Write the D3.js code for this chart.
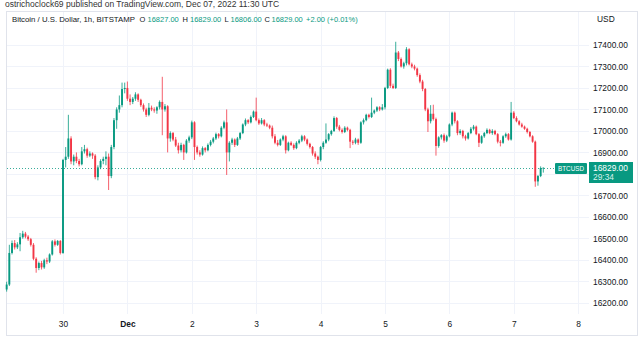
<!DOCTYPE html>
<html><head><meta charset="utf-8">
<script src="https://cdn.jsdelivr.net/npm/d3@7"></script>
<style>html,body{margin:0;padding:0;background:#fff;overflow:hidden}</style>
</head><body><svg id="c" width="643" height="343"></svg>
<script>
// ---- data (hourly candles, BTC/USD Bitstamp, first candle 2022-11-29 03:00 UTC) ----
const startTime = "2022-11-29T03:00:00Z";
const openP = [16262,16285,16432,16478,16458,16472,16505,16522,16508,16496,16470,16405,16362,16385,16365,16398,16392,16425,16486,16470,16488,16432,
16865,16880,16965,16858,16880,16860,16845,16905,16915,16885,16895,16885,16785,16830,16860,16870,16880,16790,16925,17050,17100,17120,17195,17200,
17150,17135,17150,17170,17145,17120,17100,17075,17108,17100,17095,17110,17135,17100,17115,16965,16990,16960,16932,16910,16935,16900,16955,16970,
17040,16925,16900,16890,16920,16910,16935,16950,16965,16985,16975,17015,17040,16900,16945,16960,16935,16965,16990,17030,17050,17040,17065,17090,
17050,17035,17050,17030,17025,17015,16975,16945,16935,16960,16975,16910,16945,16935,16920,16945,16955,16975,16960,16940,16925,16895,16880,16865,
16925,16945,16960,16985,17000,17060,17020,17005,16995,17015,17005,16950,16945,16960,16945,17040,17050,17075,17065,17085,17095,17110,17100,17110,
17200,17285,17210,17200,17365,17335,17300,17315,17380,17310,17300,17290,17260,17230,17195,17100,17045,17080,17055,16930,16970,16980,16955,16975,
17030,17085,17045,16990,17000,16975,16965,16990,17010,17020,16985,16945,16975,16990,17005,16990,17000,16985,16950,16945,16975,16985,16960,17085,
17060,17045,17030,17020,17010,16995,16975,16950,16765,16790,16827];
const highP = [16298,16470,16490,16492,16482,16525,16535,16530,16515,16502,16478,16412,16392,16395,16405,16410,16430,16492,16495,16492,16492,16870,
16925,17075,16975,16890,16900,16870,16925,16935,16922,16905,16900,16892,16840,16868,16880,16905,16895,16935,17060,17110,17165,17225,17225,17230,
17170,17158,17180,17175,17150,17128,17108,17130,17118,17110,17115,17142,17252,17125,17120,16998,16995,16972,16945,16945,16940,16962,16978,17048,
17045,16932,16910,16928,16925,16942,16958,16972,16992,16990,17022,17048,17100,16952,16968,16965,16972,16995,17035,17058,17055,17072,17095,17155,
17058,17060,17055,17038,17030,17025,16985,16958,16965,16982,16980,16950,16952,16942,16952,16962,16982,16980,16965,16945,16930,16905,16885,16930,
16952,17035,16990,17005,17068,17065,17028,17012,17022,17020,17010,16958,16968,16965,17045,17058,17080,17080,17155,17100,17115,17115,17125,17205,
17290,17292,17220,17415,17372,17342,17322,17390,17385,17318,17308,17295,17268,17238,17200,17108,17120,17122,17062,16975,16985,16988,16982,17035,
17090,17090,17050,17008,17005,16982,16995,17018,17028,17025,16990,16980,16995,17012,17010,17008,17005,16990,16958,16980,16992,16990,17135,17092,
17068,17050,17038,17025,17015,17000,16980,16955,16795,16835,16829];
const lowP = [16252,16278,16425,16448,16450,16440,16498,16500,16488,16462,16398,16340,16352,16355,16358,16380,16385,16420,16462,16465,16425,16428,
16830,16870,16845,16840,16850,16835,16840,16895,16875,16878,16870,16775,16770,16822,16845,16840,16725,16780,16915,17010,17085,17110,17175,17140,
17120,17125,17140,17135,17112,17090,17065,17068,17092,17085,17080,17100,16980,17090,16900,16950,16952,16925,16895,16900,16865,16895,16945,16962,
16865,16890,16880,16885,16900,16905,16928,16942,16958,16965,16970,17008,16795,16858,16935,16925,16930,16958,16985,17022,17032,17035,17060,17045,
17028,17030,17022,17018,17008,16965,16938,16928,16930,16952,16895,16905,16930,16912,16915,16938,16948,16952,16932,16918,16885,16870,16845,16858,
16915,16940,16952,16978,16995,17010,16998,16988,16990,16998,16920,16935,16938,16935,16940,17030,17045,17058,17060,17078,17088,17092,17095,17100,
17195,17200,17195,17195,17325,17295,17290,17305,17305,17292,17282,17252,17222,17185,17092,16995,17035,17048,16885,16922,16960,16945,16948,16970,
17022,17035,16980,16982,16965,16955,16960,16985,17002,16980,16925,16940,16968,16985,16985,16982,16980,16942,16928,16940,16968,16955,16955,17055,
17040,17025,17015,17005,16988,16970,16945,16740,16745,16785,16806];
const closeP = [16285,16432,16478,16458,16472,16505,16522,16508,16496,16470,16405,16362,16385,16365,16398,16392,16425,16486,16470,16488,16432,16865,
16880,16965,16858,16880,16860,16845,16905,16915,16885,16895,16885,16785,16830,16860,16870,16880,16790,16925,17050,17100,17120,17195,17200,17150,
17135,17150,17170,17145,17120,17100,17075,17108,17100,17095,17110,17135,17100,17115,16965,16990,16960,16932,16910,16935,16900,16955,16970,17040,
16925,16900,16890,16920,16910,16935,16950,16965,16985,16975,17015,17040,16900,16945,16960,16935,16965,16990,17030,17050,17040,17065,17090,17050,
17035,17050,17030,17025,17015,16975,16945,16935,16960,16975,16910,16945,16935,16920,16945,16955,16975,16960,16940,16925,16895,16880,16865,16925,
16945,16960,16985,17000,17060,17020,17005,16995,17015,17005,16950,16945,16960,16945,17040,17050,17075,17065,17085,17095,17110,17100,17110,17200,
17285,17210,17200,17365,17335,17300,17315,17380,17310,17300,17290,17260,17230,17195,17100,17045,17080,17055,16930,16970,16980,16955,16975,17030,
17085,17045,16990,17000,16975,16965,16990,17010,17020,16985,16945,16975,16990,17005,16990,17000,16985,16950,16945,16975,16985,16960,17085,17060,
17045,17030,17020,17010,16995,16975,16950,16765,16790,16827,16829];
const priceTicks = [16200,16300,16400,16500,16600,16700,16800,16900,17000,17100,17200,17300,17400];
const dayTicks = ["2022-11-30","2022-12-01","2022-12-02","2022-12-03","2022-12-04","2022-12-05","2022-12-06","2022-12-07","2022-12-08"];
const dayLabels = ["30","Dec","2","3","4","5","6","7","8"];
const lastPrice = 16829;
const headerText = "ostrichoclock69 published on TradingView.com, Dec 07, 2022 11:30 UTC";
const legendTitle = "Bitcoin / U.S. Dollar, 1h, BITSTAMP";
const ohlcKeys = ["O","H","L","C"];
const ohlcVals = ["16827.00","16829.00","16806.00","16829.00"];
const changeText = "+2.00 (+0.01%)";

// ---- layout ----
const UP = "#089981", DOWN = "#f23645", GRID = "#f0f3fa", TXT = "#131722";
const FONT = "Liberation Sans, Arial, sans-serif";
const svg = d3.select("#c");
const paneL = 6, paneR = 589, paneT = 11, paneB = 314, frameR = 637, frameB = 335;

const t0 = new Date(startTime);
const times = openP.map((d, i) => d3.utcHour.offset(t0, i));
const x = d3.scaleUtc().domain([new Date("2022-11-29T00:00:00Z"), new Date("2022-12-08T00:00:00Z")]).range([-1.4, 578.2]);
const y = d3.scaleLinear().domain([16200, 17400]).range([302.8, 45]);

// header
svg.append("text").attr("x", 5).attr("y", 7).attr("font-family", FONT).attr("font-size", 8.5).attr("fill", "#333").text(headerText);

// frame
svg.append("rect").attr("x", paneL + 0.5).attr("y", paneT + 0.5).attr("width", frameR - paneL).attr("height", frameB - paneT)
  .attr("fill", "#fff").attr("stroke", "#e0e3eb").attr("stroke-width", 1);

// grid
const g = svg.append("g");
g.selectAll(".hg").data(priceTicks).join("line")
  .attr("x1", paneL + 1).attr("x2", paneR).attr("y1", d => Math.round(y(d)) + 0.5).attr("y2", d => Math.round(y(d)) + 0.5)
  .attr("stroke", GRID).attr("stroke-width", 1);
g.selectAll(".vg").data(dayTicks).join("line")
  .attr("x1", d => Math.round(x(new Date(d + "T00:00:00Z"))) + 0.5).attr("x2", d => Math.round(x(new Date(d + "T00:00:00Z"))) + 0.5)
  .attr("y1", paneT + 1).attr("y2", paneB).attr("stroke", GRID).attr("stroke-width", 1);

// price axis labels
const yAxis = d3.axisRight(y).tickValues(priceTicks.filter(d => d !== 16800)).tickFormat(d3.format(".2f")).tickSize(0).tickPadding(0);
const ya = svg.append("g").attr("transform", `translate(593,0)`).call(yAxis);
ya.select(".domain").remove();
ya.selectAll("text").attr("font-family", FONT).attr("font-size", 8.4).attr("fill", TXT).attr("dy", "0.35em");

svg.append("text").attr("x", 597).attr("y", 22).attr("font-family", FONT).attr("font-size", 8.4).attr("fill", TXT).text("USD");

// time axis labels
const xAxis = d3.axisBottom(x).tickValues(dayTicks.map(d => new Date(d + "T00:00:00Z"))).tickFormat((d, i) => dayLabels[i]).tickSize(0).tickPadding(0);
const xa = svg.append("g").attr("transform", `translate(0,321.5)`).call(xAxis);
xa.select(".domain").remove();
xa.selectAll("text").attr("font-family", FONT).attr("font-size", 8.4).attr("fill", TXT)
  .attr("font-weight", (d, i) => dayLabels[i] === "Dec" ? "bold" : "normal");

// last price dotted line
svg.append("line").attr("x1", paneL + 1).attr("x2", 555).attr("y1", Math.round(y(lastPrice)) + 0.5).attr("y2", Math.round(y(lastPrice)) + 0.5)
  .attr("stroke", UP).attr("stroke-opacity", 0.8).attr("stroke-width", 1).attr("stroke-dasharray", "1,2");

// candles
const bw = 1.9;
const cg = svg.append("g");
const idx = d3.range(openP.length);
cg.selectAll(".wick").data(idx).join("line")
  .attr("x1", i => x(times[i])).attr("x2", i => x(times[i]))
  .attr("y1", i => y(highP[i])).attr("y2", i => y(lowP[i]))
  .attr("stroke", i => closeP[i] >= openP[i] ? UP : DOWN).attr("stroke-width", 0.8);
cg.selectAll(".body").data(idx).join("rect")
  .attr("x", i => x(times[i]) - bw / 2).attr("width", bw)
  .attr("y", i => y(Math.max(openP[i], closeP[i])))
  .attr("height", i => Math.max(0.8, Math.abs(y(openP[i]) - y(closeP[i]))))
  .attr("fill", i => closeP[i] >= openP[i] ? UP : DOWN);

// legend
const LY = 21.5;
svg.append("text").attr("x", 12).attr("y", LY).attr("font-family", FONT).attr("font-size", 7.8).attr("fill", TXT).text(legendTitle);
const keyX = [139.5, 182.5, 224.5, 264.5];
const valX = [147.5, 190, 230.5, 271.5];
ohlcKeys.forEach((k, i) => {
  svg.append("text").attr("x", keyX[i]).attr("y", LY).attr("font-family", FONT).attr("font-size", 7.5).attr("fill", TXT).text(k);
  svg.append("text").attr("x", valX[i]).attr("y", LY).attr("font-family", FONT).attr("font-size", 7.5).attr("fill", UP).text(ohlcVals[i]);
});
svg.append("text").attr("x", 306).attr("y", LY).attr("font-family", FONT).attr("font-size", 7.5).attr("fill", UP).text(changeText);

// price labels
const ly = Math.round(y(lastPrice));
svg.append("rect").attr("x", 555).attr("y", ly - 5).attr("width", 32).attr("height", 11).attr("fill", UP).attr("rx", 1);
svg.append("text").attr("x", 571).attr("y", ly + 0.5).attr("dy", "0.35em").attr("text-anchor", "middle").attr("font-family", FONT).attr("font-size", 7.5)
  .attr("textLength", 26).attr("lengthAdjust", "spacingAndGlyphs").attr("fill", "#fff").text("BTCUSD");
svg.append("rect").attr("x", 589).attr("y", ly - 6).attr("width", 44).attr("height", 21).attr("fill", UP);
svg.append("text").attr("x", 593).attr("y", ly + 0.5).attr("dy", "0.35em").attr("font-family", FONT).attr("font-size", 8.4).attr("fill", "#fff").text(d3.format(".2f")(lastPrice));
svg.append("text").attr("x", 593).attr("y", ly + 9.5).attr("dy", "0.35em").attr("font-family", FONT).attr("font-size", 8.4).attr("fill", "#d8f0ec").text("29:34");
</script></body></html>
